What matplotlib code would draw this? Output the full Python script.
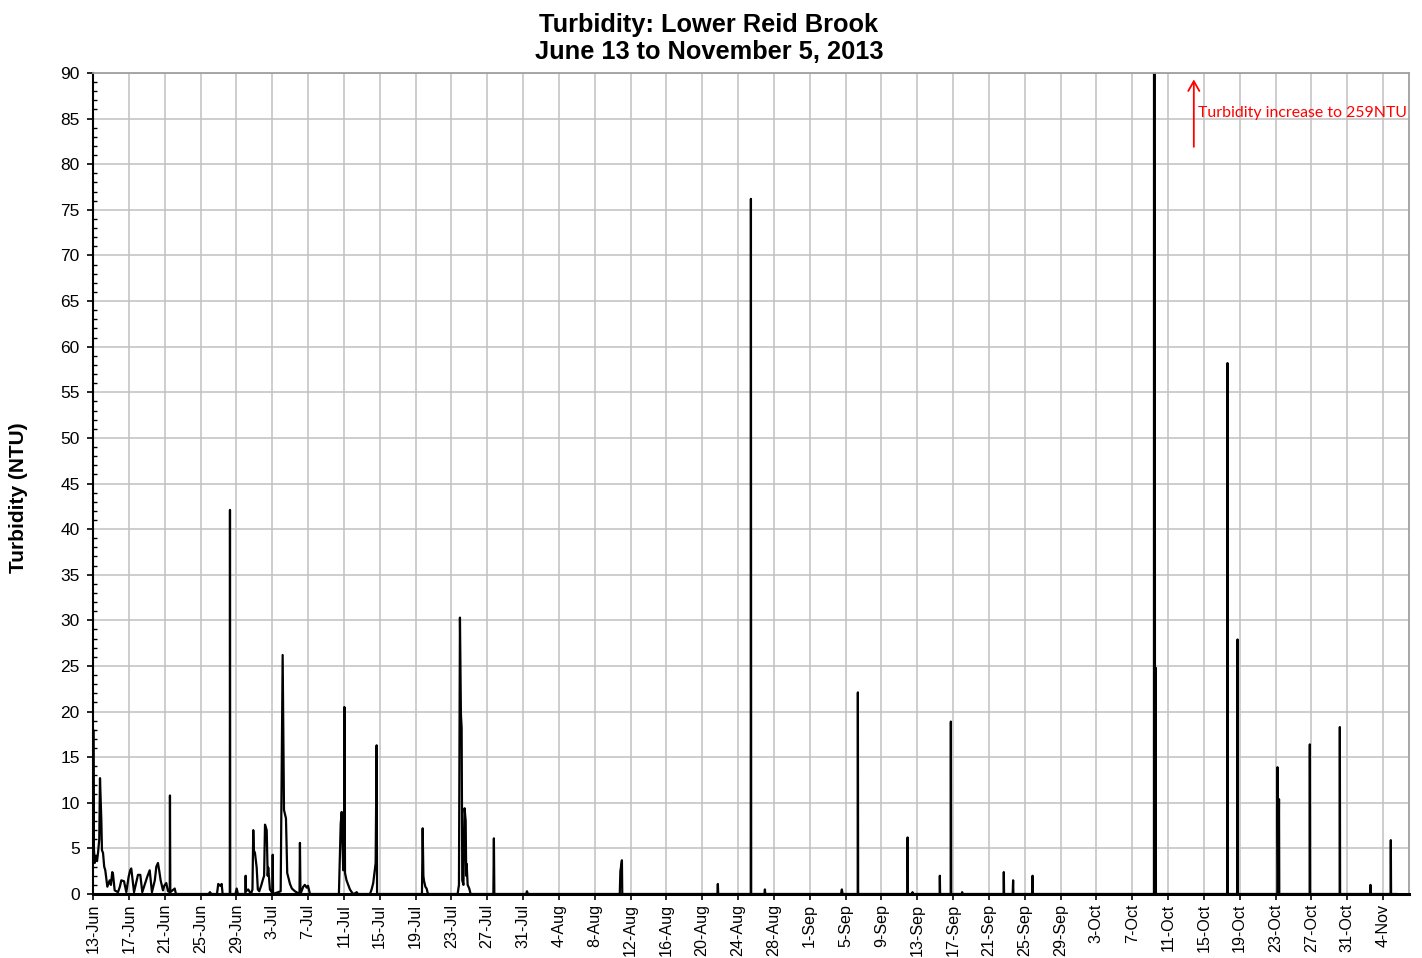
import datetime as dt
import matplotlib
matplotlib.use("Agg")
import matplotlib.pyplot as plt
import matplotlib.dates as mdates
from matplotlib.ticker import MultipleLocator, FuncFormatter

# ---------------- data ----------------
start_date = dt.datetime(2013, 6, 13)
end_axis_days = 146.9

# days since 13-Jun-2013 00:00 and turbidity (NTU)
day_offset = [
    0.00, 0.03, 0.10, 0.19, 0.33, 0.45, 0.56, 0.70, 0.78, 0.93, 1.00, 1.12, 1.25, 1.37,
    1.60, 1.75, 1.86, 2.00, 2.15, 2.23, 2.42, 2.79, 3.00, 3.16, 3.46, 3.72, 3.98, 4.15,
    4.27, 4.58, 5.02, 5.28, 5.50, 6.06, 6.33, 6.58, 6.90, 7.07, 7.25, 7.40, 7.55, 7.81,
    7.95, 8.18, 8.37, 8.57, 8.59, 8.63, 9.12, 9.26,
    12.90, 13.06, 13.20, 13.84, 13.98, 14.20, 14.36, 14.47, 15.27, 15.29, 15.32,
    15.90, 16.04, 16.18, 17.00, 17.04, 17.08, 17.33, 17.63, 17.80, 17.89, 17.95, 18.08,
    18.27, 18.40, 18.56, 18.80, 18.94, 19.10, 19.20, 19.39, 19.50, 19.56, 19.75, 20.02,
    20.06, 20.10, 20.95, 21.17, 21.32, 21.54, 21.68, 21.99, 22.20, 22.54, 23.05, 23.10,
    23.16, 23.47, 23.65, 23.85, 24.00, 24.22,
    27.45, 27.55, 27.65, 27.76, 27.93, 28.03, 28.06, 28.13, 28.30, 28.68, 29.02, 29.30,
    29.43, 29.58, 30.92, 31.10, 31.28, 31.55, 31.66, 31.71,
    36.72, 36.80, 36.88, 36.94, 37.10, 37.24, 37.39,
    40.70, 40.85, 40.96, 41.07, 41.15, 41.22, 41.35, 41.48, 41.60, 41.66, 41.71, 41.82,
    42.00, 42.15,
    44.69, 44.75, 44.80, 48.35, 48.44, 48.55, 58.80, 58.87, 59.04, 59.08,
    69.70, 69.75, 69.79, 73.42, 73.44, 73.47, 74.95, 75.00, 75.05,
    83.50, 83.59, 83.68, 85.36, 85.38, 85.41, 90.91, 90.93, 90.96, 91.45, 91.48, 91.52,
    94.51, 94.53, 94.56, 95.74, 95.76, 95.79, 96.98, 97.02, 97.06,
    101.65, 101.67, 101.70, 102.66, 102.71, 102.74, 104.86, 104.88, 104.91,
    118.43, 118.45, 118.55, 118.62, 118.65,
    126.62, 126.64, 126.67, 127.74, 127.76, 127.79,
    132.20, 132.22, 132.30, 132.39, 132.42, 135.81, 135.83, 135.86,
    139.16, 139.18, 139.21, 142.56, 142.60, 142.63, 144.85, 144.87, 144.90, 145.50,
]
turbidity = [
    4.0, 18.0, 5.0, 3.4, 4.2, 3.6, 4.5, 6.0, 12.7, 8.1, 4.8, 4.5, 3.0, 2.6,
    0.8, 1.2, 1.5, 1.0, 2.4, 2.2, 0.4, 0.2, 0.8, 1.5, 1.4, 0.2, 1.9, 2.6,
    2.8, 0.2, 2.1, 2.1, 0.2, 1.9, 2.6, 0.2, 1.5, 3.0, 3.4, 2.5, 1.5, 0.4,
    0.9, 1.2, 0.3, 0.2, 10.8, 0.2, 0.6, 0.0,
    0.0, 0.2, 0.0, 0.0, 1.1, 0.9, 1.1, 0.0, 0.0, 42.1, 0.0,
    0.0, 0.6, 0.0, 0.0, 2.0, 0.3, 0.5, 0.0, 0.5, 7.0, 4.8, 4.5,
    2.9, 0.5, 0.3, 1.0, 1.5, 2.0, 7.6, 7.0, 2.0, 2.9, 0.5, 0.1,
    4.3, 0.0, 0.3, 26.2, 9.2, 8.3, 2.3, 1.1, 0.6, 0.3, 0.0, 5.6,
    0.0, 0.8, 1.0, 0.7, 0.9, 0.0,
    0.0, 4.0, 7.7, 9.0, 2.6, 3.0, 20.5, 2.3, 1.5, 0.5, 0.0, 0.1,
    0.2, 0.0, 0.0, 0.5, 1.2, 3.4, 16.3, 0.0,
    0.0, 7.2, 2.0, 1.5, 0.8, 0.6, 0.0,
    0.0, 1.0, 30.3, 19.7, 18.2, 1.5, 1.0, 9.4, 8.0, 2.0, 3.3, 1.0,
    0.6, 0.0,
    0.0, 6.1, 0.0, 0.0, 0.3, 0.0, 0.0, 2.5, 3.7, 0.0,
    0.0, 1.1, 0.0, 0.0, 76.2, 0.0, 0.0, 0.5, 0.0,
    0.0, 0.5, 0.0, 0.0, 22.1, 0.0, 0.0, 6.2, 0.0, 0.0, 0.2, 0.0,
    0.0, 2.0, 0.0, 0.0, 18.9, 0.0, 0.0, 0.2, 0.0,
    0.0, 2.4, 0.0, 0.0, 1.5, 0.0, 0.0, 2.0, 0.0,
    0.0, 259.0, 1.0, 24.8, 0.0,
    0.0, 58.2, 0.0, 0.0, 27.9, 0.0,
    0.0, 13.9, 0.5, 10.4, 0.0, 0.0, 16.4, 0.0,
    0.0, 18.3, 0.0, 0.0, 1.0, 0.0, 0.0, 5.9, 0.0, 0.0,
]

title_line1 = "Turbidity: Lower Reid Brook"
title_line2 = "June 13 to November 5, 2013"
y_label = "Turbidity (NTU)"
note_text = "Turbidity increase to 259NTU"
note_x_days = 122.88
note_arrow_y = [81.6, 89.6]
note_text_y = 85.6

# ---------------- plot ----------------
plt.rcParams['font.family'] = ['Liberation Sans', 'DejaVu Sans']

W, H = 1422, 958
fig = plt.figure(figsize=(W / 100, H / 100), dpi=100)
L, R, T, B = 93, 1409, 73, 894
ax = fig.add_axes([L / W, 1 - B / H, (R - L) / W, (B - T) / H])

times = [start_date + dt.timedelta(days=d) for d in day_offset]
ax.plot(times, turbidity, color='black', lw=1.6, zorder=2)

ax.set_xlim(start_date, start_date + dt.timedelta(days=end_axis_days))
ax.set_ylim(0, 90)

tick_dates = [start_date + dt.timedelta(days=4 * k) for k in range(37)]
ax.set_xticks(tick_dates)
ax.xaxis.set_major_formatter(FuncFormatter(
    lambda v, p: "{}-{}".format(mdates.num2date(v).day, mdates.num2date(v).strftime('%b'))))
ax.yaxis.set_major_locator(MultipleLocator(5))
ax.yaxis.set_minor_locator(MultipleLocator(1))

ax.set_axisbelow(True)
ax.grid(True, which='major', color='#c0c0c0', lw=1.1)

ax.tick_params(axis='x', which='major', direction='out', length=4, width=1.2,
               labelsize=11.6, labelrotation=90, pad=3, color='black')
ax.tick_params(axis='y', which='major', direction='out', length=4.5, width=1.2,
               labelsize=12.5, pad=5, color='black')
ax.tick_params(axis='y', which='minor', direction='in', length=3, width=1.0, color='black')
ax.tick_params(axis='x', which='minor', length=0)

for s in ['top', 'right']:
    ax.spines[s].set_color('#a0a0a0')
    ax.spines[s].set_linewidth(1.3)
ax.spines['left'].set_color('black')
ax.spines['left'].set_linewidth(1.5)
ax.spines['bottom'].set_color('black')
ax.spines['bottom'].set_linewidth(2.2)

fig.text(709 / W, 1 - 31.7 / H, title_line1, ha='center', va='baseline',
         fontsize=18.3, fontweight='bold')
fig.text(709 / W, 1 - 59.3 / H, title_line2, ha='center', va='baseline',
         fontsize=18.3, fontweight='bold')
fig.text(19 / W, 1 - 498 / H, y_label, rotation=90, ha='center', va='center',
         fontsize=15, fontweight='bold')

note_x = start_date + dt.timedelta(days=note_x_days)
ax.annotate('', xy=(note_x, note_arrow_y[1]), xytext=(note_x, note_arrow_y[0]),
            arrowprops=dict(arrowstyle='->,head_length=0.7,head_width=0.4',
                            color='red', lw=1.3), annotation_clip=False)
ax.text(start_date + dt.timedelta(days=note_x_days + 0.45), note_text_y, note_text,
        color='red', fontsize=11.4, family=['Lato', 'DejaVu Sans'],
        ha='left', va='center')

fig.savefig('out.png', dpi=100)
